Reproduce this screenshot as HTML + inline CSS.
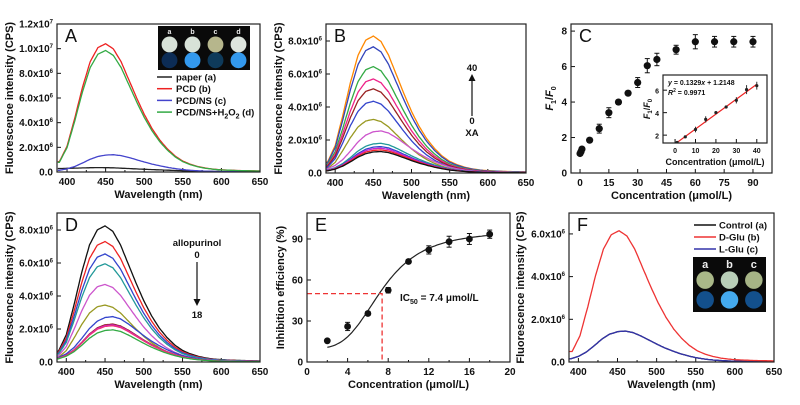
<!DOCTYPE html>
<html><head><meta charset="utf-8">
<style>
html,body{margin:0;padding:0;background:#fff;}
svg{display:block;font-family:"Liberation Sans",Arial,sans-serif;}
text{font-weight:bold;fill:#111;}
</style></head>
<body>
<svg id="fig" width="800" height="405" viewBox="0 0 800 405" xmlns="http://www.w3.org/2000/svg"></svg>
<script>
// ---- data ----
const profWl = [390,400,410,420,430,440,450,460,470,480,490,500,510,520,530,540,550,560,570,580,590,600,620,650];
const profVal = [0.08,0.2,0.42,0.66,0.86,0.97,1.0,0.96,0.86,0.72,0.58,0.45,0.34,0.25,0.18,0.125,0.085,0.06,0.042,0.03,0.022,0.017,0.012,0.008];
const profLowVal = [0.1,0.18,0.32,0.52,0.74,0.9,0.98,1.0,0.95,0.84,0.71,0.58,0.46,0.36,0.27,0.2,0.14,0.1,0.07,0.05,0.035,0.025,0.015,0.01];
const paperWl = [390,420,440,460,500,550,600,650];
const paperVal = [0.28e6,0.33e6,0.36e6,0.34e6,0.22e6,0.1e6,0.04e6,0.02e6];
const aPeaks = [1.04e7,1.4e6,0.985e7];
const aColors = ["#ee2222","#4444cc","#33aa44"];
const aNames = ["paper (a)","PCD (b)","PCD/NS (c)","PCD/NS+H2O2 (d)"];
const bPeaks = [8.3e6,7.65e6,6.45e6,5.7e6,5.1e6,4.35e6,3.25e6,2.55e6,1.8e6,1.6e6,1.5e6,1.4e6,1.3e6];
const bColors = ["#ff8800","#3344bb","#33aa44","#ee2288","#992222","#3344cc","#999922","#cc55cc","#229999","#3344cc","#cc22cc","#ee2222","#111111"];
const dPeaks = [8.25e6,7.3e6,6.55e6,5.95e6,4.7e6,3.45e6,2.75e6,2.3e6,2.25e6,2.2e6,1.95e6];
const dColors = ["#111111","#ee2222","#3344cc","#229999","#cc55cc","#999922","#3344cc","#992222","#cc22cc","#ee3377","#33aa44"];
const fPeaks = [1.45e6,6.15e6,1.45e6];
const fColors = ["#111111","#ee3333","#3333aa"];
const fNames = ["Control (a)","D-Glu (b)","L-Glu (c)"];
const cX = [0,0.5,1,5,10,15,20,25,30,35,40,50,60,70,80,90];
const cY = [1.1,1.2,1.35,1.85,2.5,3.4,4.0,4.5,5.1,6.05,6.4,6.95,7.4,7.4,7.4,7.4];
const cErr = [0.1,0.1,0.1,0.1,0.25,0.28,0.12,0.1,0.28,0.4,0.35,0.25,0.4,0.3,0.3,0.3];
const eX = [2,4,6,8,10,12,14,16,18];
const eY = [15.5,26,35.5,52.5,73.5,82,88,90,93.5];
const eErr = [1,3,1.5,2,1.5,3,4,4,3];
const fitParams = [10,96,7.4,3.6]; // bottom, top, IC50, hill

const S = document.getElementById('fig');
const NS = "http://www.w3.org/2000/svg";
function mk(tag, attrs, parent){const e=document.createElementNS(NS,tag);for(const k in attrs)e.setAttribute(k,attrs[k]);(parent||S).appendChild(e);return e;}
function txt(x,y,s,size,anchor,parent,extra){const t=mk('text',Object.assign({x:x,y:y,'font-size':size,'text-anchor':anchor||'middle'},extra||{}),parent);t.innerHTML=s;return t;}
function interp(xs,ys,x){if(x<=xs[0])return ys[0];for(let i=1;i<xs.length;i++){if(x<=xs[i]){const f=(x-xs[i-1])/(xs[i]-xs[i-1]);return ys[i-1]+f*(ys[i]-ys[i-1]);}}return ys[ys.length-1];}

function panel(o){
  const g=mk('g',{});
  
  
  const sx=v=>o.l+(v-o.x0)/(o.x1-o.x0)*(o.r-o.l);
  const sy=v=>o.b-(v-o.y0)/(o.y1-o.y0)*(o.b-o.t);
  if(o.bg){mk('rect',{x:o.l,y:o.t,width:o.r-o.l,height:o.b-o.t,fill:'#fff'},g);}
  const ax=mk('g',{},g);
  
  o.xt.forEach((v,i)=>{const x=sx(v);mk('line',{x1:x,x2:x,y1:o.b,y2:o.b-4,stroke:'#111','stroke-width':1},ax);
    const lb=txt(x,o.b+(o.fs?10:13),o.xl[i],o.fs||10,'middle',ax);});
  if(o.xm)o.xm.forEach(v=>{const x=sx(v);mk('line',{x1:x,x2:x,y1:o.b,y2:o.b-2,stroke:'#111','stroke-width':1},ax);});
  const ay=mk('g',{},g);
  
  o.yt.forEach((v,i)=>{const y=sy(v);mk('line',{x1:o.l,x2:o.l+4,y1:y,y2:y,stroke:'#111','stroke-width':1},ay);
    const lb=txt(o.l-4,y+3.5,o.yl[i],o.yfs||10,'end',ay);});
  const xt=txt((o.l+o.r)/2,o.b+(o.xtOff||26),o.xtitle,o.tfs||11,'middle',g);
  
  const yx=o.ytx, yy=(o.t+o.b)/2;
  const yt=txt(yx,yy,o.ytitle,o.tfs||11,'middle',g,{transform:`rotate(-90 ${yx} ${yy})`});
  
  const clip='c'+o.name;
  const cp=mk('clipPath',{id:clip},g);mk('rect',{x:o.l,y:o.t,width:o.r-o.l,height:o.b-o.t},cp);
  const plot=mk('g',{'clip-path':`url(#${clip})`},g);
  
  const fr=mk('rect',{x:o.l,y:o.t,width:o.r-o.l,height:o.b-o.t,fill:'none',stroke:'#222','stroke-width':1.2},g);
  
  if(o.letter){const L=txt(o.l+8,o.t+18,o.letter,18,'start',g);L.style.fontWeight='normal';}
  return {g,plot,sx,sy};
}
function spectrum(p,peak,color,prof,shift,name){
  let d='';
  for(let w=388;w<=650;w+=2){const v=peak*interp(profWl,prof,w-(shift||0));d+=(d?'L':'M')+p.sx(w).toFixed(1)+','+p.sy(v).toFixed(1);}
  const e=mk('path',{d:d,fill:'none',stroke:color,'stroke-width':1.3},p.plot);
  
}
const wlT=[400,450,500,550,600,650], wlL=wlT.map(String), wlM=[425,475,525,575,625];
function sup(m,e){return `${m}x10<tspan font-size="6" dy="-4">${e}</tspan>`;}
function insetPhoto(parent,x,y,w,h,top,bot,labels){
  const g=mk('g',{},parent);
  mk('rect',{x:x,y:y,width:w,height:h,fill:'#0a0a0a'},g);
  const n=top.length, dx=w/n, r=Math.min(dx,h/2)*0.36;
  top.forEach((c,i)=>{const cx=x+dx*(i+0.5);
    const t=txt(cx,y+(h>50?11:8),labels[i],h>50?11:7,'middle',g);t.style.fill='#eee';
    mk('circle',{cx:cx,cy:y+h*0.42,r:r,fill:c},g);mk('circle',{cx:cx,cy:y+h*0.78,r:r,fill:bot[i]},g);});
}

// ---- Panel A ----
(function(){
  const p=panel({name:'panel-a',l:57,r:260,t:24,b:172,x0:387,x1:650,y0:0,y1:1.2e7,xt:wlT,xl:wlL,xm:wlM,
    yt:[0,2e6,4e6,6e6,8e6,1e7,1.2e7],yl:['0.0',sup('2.0',6),sup('4.0',6),sup('6.0',6),sup('8.0',6),sup('1.0',7),sup('1.2',7)],
    xtitle:'Wavelength (nm)',ytitle:'Fluorescence intensity (CPS)',ytx:13,letter:'A'});
  let d='';for(let w=388;w<=650;w+=2){d+=(d?'L':'M')+p.sx(w).toFixed(1)+','+p.sy(interp(paperWl,paperVal,w)).toFixed(1);}
  const pe=mk('path',{d:d,fill:'none',stroke:'#222','stroke-width':1.3},p.plot);
  spectrum(p,aPeaks[0],aColors[0],profVal,0,'series-pcd');
  spectrum(p,aPeaks[1],aColors[1],profLowVal,0,'series-pcd-ns');
  spectrum(p,aPeaks[2],aColors[2],profVal,0,'series-pcd-ns-h2o2');
  insetPhoto(p.g,158,26,92,44,['#d8e2d8','#d8e2d8','#b6b68c','#dde4dd'],['#0c2c55','#3399ee','#0e3a5a','#3399ee'],['a','b','c','d']);
  const cols=['#222',aColors[0],aColors[1],aColors[2]];
  const labs=['paper (a)','PCD (b)','PCD/NS (c)','PCD/NS+H<tspan font-size="7" dy="3">2</tspan><tspan dy="-3">O</tspan><tspan font-size="7" dy="3">2</tspan><tspan dy="-3"> (d)</tspan>'];
  cols.forEach((c,i)=>{const y=77+i*11.7;const lg=mk('g',{},p.g);
    mk('line',{x1:157,x2:172,y1:y,y2:y,stroke:c,'stroke-width':1.5},lg);txt(176,y+3.5,labs[i],9.5,'start',lg);});
})();

// ---- Panel B ----
(function(){
  const p=panel({name:'panel-b',l:326,r:526,t:24,b:173,x0:388,x1:650,y0:0,y1:9.03e6,xt:wlT,xl:wlL,xm:wlM,
    yt:[0,2e6,4e6,6e6,8e6],yl:['0.0',sup('2.0',6),sup('4.0',6),sup('6.0',6),sup('8.0',6)],
    xtitle:'Wavelength (nm)',ytitle:'Fluorescence intensity (CPS)',ytx:282,letter:'B'});
  bPeaks.forEach((pk,i)=>spectrum(p,pk,bColors[i],pk<3e6?profLowVal:profVal,0,'series-xa-'+i));
  txt(472,71,'40',9.5,'middle',p.g);
  mk('line',{x1:472,x2:472,y1:116,y2:80,stroke:'#111','stroke-width':1.2},p.g);
  mk('path',{d:'M468.5,81 L472,74 L475.5,81 Z',fill:'#111'},p.g);
  txt(472,124,'0',9.5,'middle',p.g);txt(472,136,'XA',9.5,'middle',p.g);
})();

// ---- Panel C ----
(function(){
  const p=panel({name:'panel-c',l:571,r:772,t:24,b:173,x0:-4.7,x1:99.9,y0:0,y1:8.4,xt:[0,15,30,45,60,75,90],xl:['0','15','30','45','60','75','90'],
    yt:[0,2,4,6,8],yl:['0','2','4','6','8'],xtitle:'Concentration (μmol/L)',ytitle:'<tspan font-style="italic">F</tspan><tspan font-size="7" dy="3">1</tspan><tspan dy="-3">/</tspan><tspan font-style="italic">F</tspan><tspan font-size="7" dy="3">0</tspan>',ytx:553,letter:'C'});
  cX.forEach((x,i)=>{const g=mk('g',{},p.plot);
    const X=p.sx(x);mk('line',{x1:X,x2:X,y1:p.sy(cY[i]-cErr[i]),y2:p.sy(cY[i]+cErr[i]),stroke:'#111'},g);
    [cY[i]-cErr[i],cY[i]+cErr[i]].forEach(v=>mk('line',{x1:X-2.5,x2:X+2.5,y1:p.sy(v),y2:p.sy(v),stroke:'#111'},g));
    mk('circle',{cx:X,cy:p.sy(cY[i]),r:3.6,fill:'#111'},g);});
  // inset
  const q=panel({name:'panel-c-inset',bg:true,l:663,r:767,t:75,b:143,x0:-5.9,x1:45,y0:1.3,y1:7.35,xt:[0,10,20,30,40],xl:['0','10','20','30','40'],
    yt:[2,4,6],yl:['2','4','6'],fs:7,yfs:7,tfs:9,xtOff:22,xtitle:'Concentration (μmol/L)',ytitle:'<tspan font-style="italic">F</tspan><tspan font-size="6" dy="2">1</tspan><tspan dy="-2">/</tspan><tspan font-style="italic">F</tspan><tspan font-size="6" dy="2">0</tspan>',ytx:650});
  const slope=0.1329, icpt=1.2148;
  const fl=mk('line',{x1:q.sx(0),y1:q.sy(icpt),x2:q.sx(40),y2:q.sy(icpt+slope*40),stroke:'#ee2222','stroke-width':1.2},q.plot);
  
  cX.forEach((x,i)=>{if(x>40)return;const g=mk('g',{},q.plot);
    const X=q.sx(x);mk('line',{x1:X,x2:X,y1:q.sy(cY[i]-cErr[i]),y2:q.sy(cY[i]+cErr[i]),stroke:'#333'},g);
    mk('circle',{cx:X,cy:q.sy(cY[i]),r:1.6,fill:'#222'},g);});
  txt(668,85,'<tspan font-style="italic">y</tspan> = 0.1329<tspan font-style="italic">x</tspan> + 1.2148',7,'start',q.g);
  txt(668,95,'<tspan font-style="italic">R</tspan><tspan font-size="5" dy="-3">2</tspan><tspan dy="3"> = 0.9971</tspan>',7,'start',q.g);
})();

// ---- Panel D ----
(function(){
  const p=panel({name:'panel-d',l:57,r:260,t:213,b:362,x0:388,x1:650,y0:0,y1:9.03e6,xt:wlT,xl:wlL,xm:wlM,
    yt:[0,2e6,4e6,6e6,8e6],yl:['0.0',sup('2.0',6),sup('4.0',6),sup('6.0',6),sup('8.0',6)],
    xtitle:'Wavelength (nm)',ytitle:'Fluorescence intensity (CPS)',ytx:13,letter:'D'});
  dPeaks.forEach((pk,i)=>spectrum(p,pk,dColors[i],pk<3e6?profLowVal:profVal,0,'series-allopurinol-'+i));
  txt(197,246,'allopurinol',9.5,'middle',p.g);txt(197,258,'0',9.5,'middle',p.g);
  mk('line',{x1:197,x2:197,y1:262,y2:300,stroke:'#111','stroke-width':1.2},p.g);
  mk('path',{d:'M193.5,299 L197,306 L200.5,299 Z',fill:'#111'},p.g);
  txt(197,318,'18',9.5,'middle',p.g);
})();

// ---- Panel E ----
(function(){
  const p=panel({name:'panel-e',l:307,r:510,t:213,b:362,x0:0,x1:20,y0:0,y1:109,xt:[0,4,8,12,16,20],xl:['0','4','8','12','16','20'],xm:[2,6,10,14,18],
    yt:[0,30,60,90],yl:['0','30','60','90'],xtitle:'Concentration (μmol/L)',ytitle:'Inhibition efficiency (%)',ytx:284,letter:'E'});
  const [bt,tp,ic,h]=fitParams;
  let d='';for(let x=2;x<=18.01;x+=0.2){const v=bt+(tp-bt)/(1+Math.pow(ic/x,h));d+=(d?'L':'M')+p.sx(x).toFixed(1)+','+p.sy(v).toFixed(1);}
  const c=mk('path',{d:d,fill:'none',stroke:'#222','stroke-width':1.2},p.plot);
  const dl=mk('path',{d:`M${p.sx(0)},${p.sy(50)} L${p.sx(ic)},${p.sy(50)} L${p.sx(ic)},${p.sy(0)}`,fill:'none',stroke:'#ee3333','stroke-width':1.3,'stroke-dasharray':'5,3'},p.plot);
  
  eX.forEach((x,i)=>{const g=mk('g',{},p.plot);
    const X=p.sx(x);mk('line',{x1:X,x2:X,y1:p.sy(eY[i]-eErr[i]),y2:p.sy(eY[i]+eErr[i]),stroke:'#111'},g);
    [eY[i]-eErr[i],eY[i]+eErr[i]].forEach(v=>mk('line',{x1:X-2.5,x2:X+2.5,y1:p.sy(v),y2:p.sy(v),stroke:'#111'},g));
    mk('circle',{cx:X,cy:p.sy(eY[i]),r:3.4,fill:'#111'},g);});
  txt(400,301,'IC<tspan font-size="7" dy="3">50</tspan><tspan dy="-3"> = 7.4 μmol/L</tspan>',10,'start',p.g);
})();

// ---- Panel F ----
(function(){
  const p=panel({name:'panel-f',l:569,r:774,t:213,b:362,x0:388,x1:650,y0:0,y1:6.98e6,xt:wlT,xl:wlL,xm:wlM,
    yt:[0,2e6,4e6,6e6],yl:['0.0',sup('2.0',6),sup('4.0',6),sup('6.0',6)],
    xtitle:'Wavelength (nm)',ytitle:'Fluorescence intensity (CPS)',ytx:524,letter:'F'});
  spectrum(p,fPeaks[0],fColors[0],profLowVal,0,'series-control');
  spectrum(p,fPeaks[2],fColors[2],profLowVal,0,'series-l-glu');
  spectrum(p,fPeaks[1],fColors[1],profVal,2,'series-d-glu');
  fNames.forEach((n,i)=>{const y=225+i*12;const lg=mk('g',{},p.g);
    mk('line',{x1:694,x2:716,y1:y,y2:y,stroke:fColors[i],'stroke-width':1.5},lg);txt(719,y+3.5,n,9.5,'start',lg);});
  insetPhoto(p.g,693,257,73,55,['#a9b888','#b9cfb8','#a6b486'],['#13508c','#44aaee','#13508c'],['a','b','c']);
})();
</script>
</body></html>
